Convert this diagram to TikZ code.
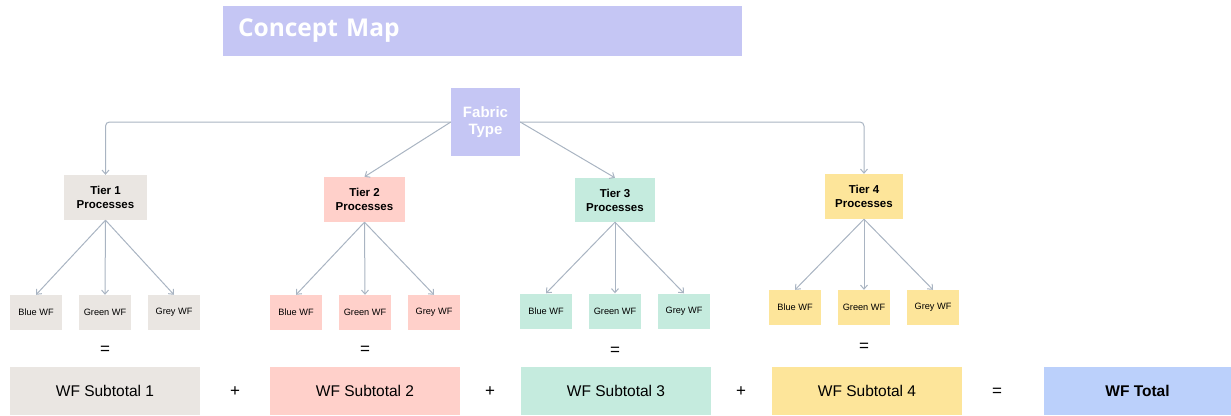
\documentclass[tikz,border=0pt]{standalone}
\usepackage{fontspec}
\setmainfont{Liberation Sans}
\newfontfamily\titlefont{Open Sans}
\usetikzlibrary{arrows.meta}

\definecolor{lavender}{HTML}{C5C6F4}
\definecolor{tierone}{HTML}{EAE6E2}
\definecolor{tiertwo}{HTML}{FFD0CA}
\definecolor{tierthree}{HTML}{C5EBDE}
\definecolor{tierfour}{HTML}{FDE59A}
\definecolor{totalblue}{HTML}{BBD0FB}
\definecolor{linkgrey}{HTML}{A9B4C2}

\begin{document}
\begin{tikzpicture}[x=1pt, y=-1pt,
    box/.style={inner sep=0pt, align=center},
    tierbox/.style={box, minimum width=81pt, minimum height=45pt,
        font=\fontsize{11.5}{14}\selectfont\bfseries},
    leafbox/.style={box, minimum width=52pt, minimum height=35pt,
        font=\fontsize{9.2}{11}\selectfont},
    subbox/.style={box, minimum width=190pt, minimum height=48pt,
        font=\fontsize{15.5}{18}\selectfont},
    sign/.style={inner sep=0pt, font=\fontsize{17}{20}\selectfont},
    link/.style={draw=linkgrey, line width=1pt, -{Straight Barb[length=4pt,width=7pt]}}]
    \useasboundingbox (0,0) rectangle (1231,415);

    \node (title) [box, fill=lavender, minimum height=50pt, text width=489pt,
        inner xsep=15pt, align=left, text=white,
        font=\titlefont\fontsize{24.5}{28}\selectfont\bfseries] at (482.5,31) {Concept Map};

    \node (fabric) [box, fill=lavender, minimum width=69pt, minimum height=68pt, text=white,
        font=\fontsize{15}{17}\selectfont\bfseries] at (485.5,122) {Fabric\\Type};

    \node (tier1) [tierbox, fill=tierone, minimum width=83pt] at (105.5,197.5) {Tier 1\\Processes};
    \node (tier2) [tierbox, fill=tiertwo] at (364.5,199.5) {Tier 2\\Processes};
    \node (tier3) [tierbox, fill=tierthree, minimum width=80pt, minimum height=44pt] at (615,200) {Tier 3\\Processes};
    \node (tier4) [tierbox, fill=tierfour, minimum width=78pt] at (864,196.5) {Tier 4\\Processes};

    \draw[link, rounded corners=4pt] (fabric.west) -| (tier1.north);
    \draw[link, rounded corners=4pt] (fabric.east) -| (tier4.north);
    \draw[link] (fabric.west) -- (tier2.north);
    \draw[link] (fabric.east) -- (tier3.north);

    \foreach \i/\x/\y/\e/\c in {1/105/312.5/350/tierone, 2/365/312.5/350/tiertwo,
                                3/615/311/351/tierthree, 4/864/307.5/347/tierfour} {
        \node (blue\i) [leafbox, fill=\c] at (\x-69,\y) {Blue WF};
        \node (green\i) [leafbox, fill=\c] at (\x,\y) {Green WF};
        \node (grey\i) [leafbox, fill=\c] at (\x+69,\y) {Grey WF};
        \draw[link] (tier\i.south) -- (blue\i.north);
        \draw[link] (tier\i.south) -- (green\i.north);
        \draw[link] (tier\i.south) -- (grey\i.north);
        \node (eq\i) [sign] at (\x,\e) {=};
    }

    \node (sub1) [subbox, fill=tierone] at (105,391) {WF Subtotal 1};
    \node (sub2) [subbox, fill=tiertwo] at (365,391) {WF Subtotal 2};
    \node (sub3) [subbox, fill=tierthree] at (616,391) {WF Subtotal 3};
    \node (sub4) [subbox, fill=tierfour] at (867,391) {WF Subtotal 4};
    \node (total) [subbox, fill=totalblue, minimum width=187pt, font=\fontsize{15.5}{18}\selectfont\bfseries] at (1137.5,391) {WF Total};

    \node (plus1) [sign] at (235,392) {+};
    \node (plus2) [sign] at (490,392) {+};
    \node (plus3) [sign] at (741,392) {+};
    \node (eqtotal) [sign] at (997,392) {=};
\end{tikzpicture}
\end{document}
